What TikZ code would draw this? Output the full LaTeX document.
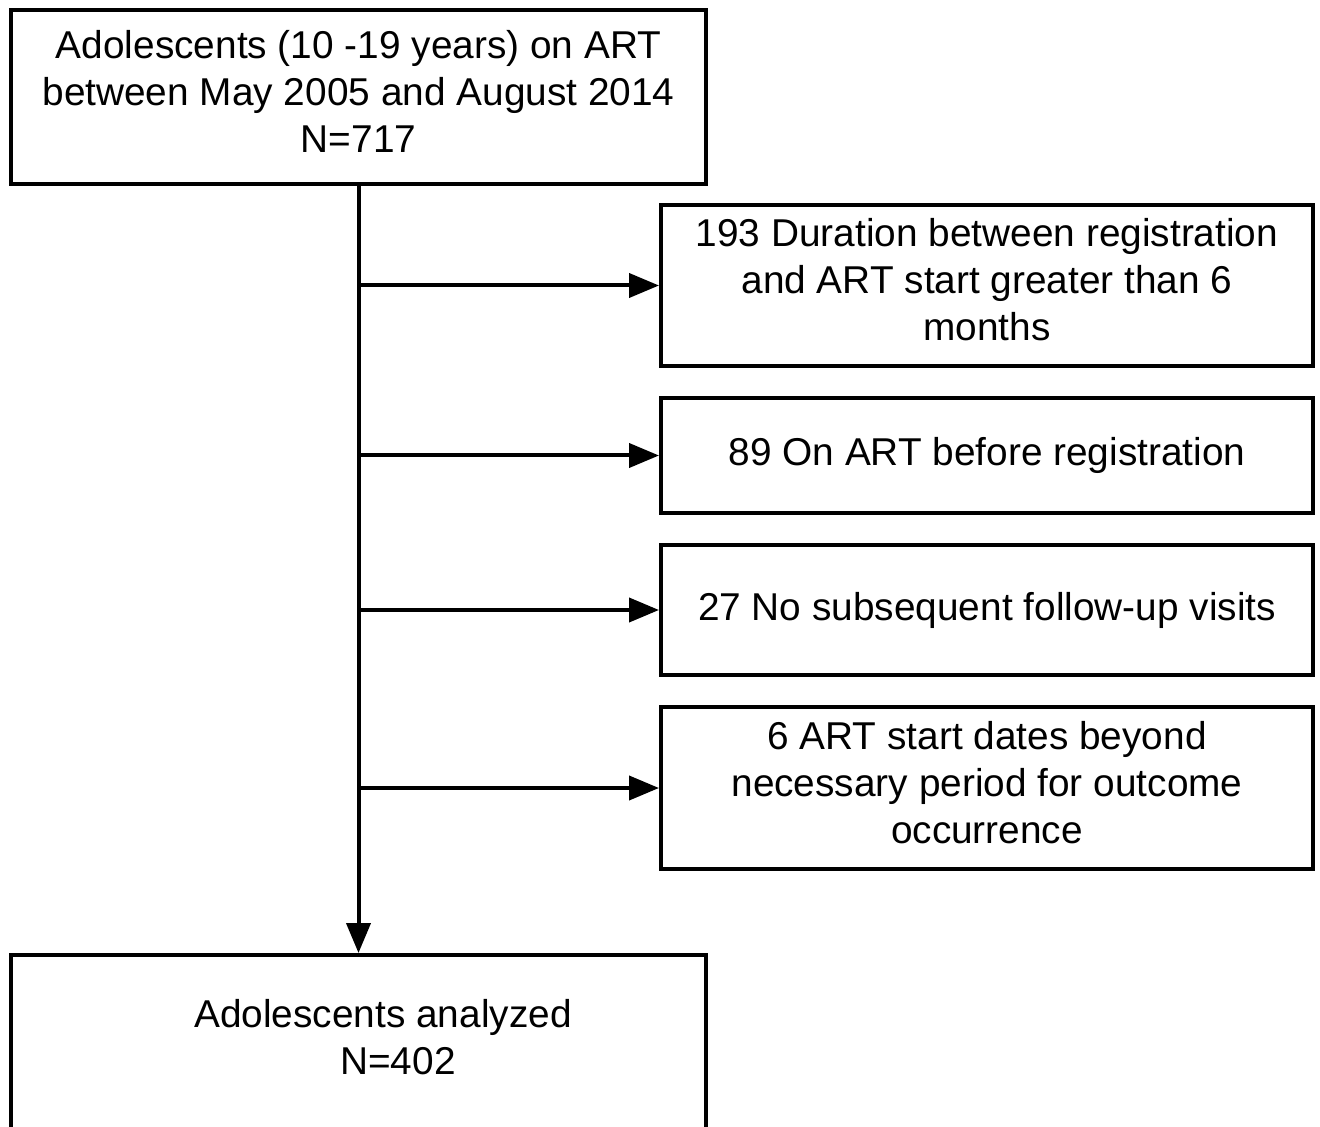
\documentclass[tikz,border=0pt]{standalone}
\usepackage{fontspec}
\setmainfont{Liberation Sans}
\usetikzlibrary{arrows.meta}
\begin{document}
\begin{tikzpicture}[x=0.5pt,y=-0.5pt,
  txt/.style={font=\fontsize{19.4pt}{23.5pt}\selectfont},
  box/.style={draw,line width=2pt,rectangle,inner sep=0pt,align=center,txt},
  conn/.style={line width=2pt,-{Triangle[length=15pt,width=12pt]}}]
\clip (0,0) rectangle (1320,1127);
\fill[white] (0,0) rectangle (1320,1127);
\node[box,minimum width=347.5pt,minimum height=87pt] (top) at (358.5,97)
  {Adolescents (10 -19 years) on ART\\between May 2005 and August 2014\\N=717\\[-17.5pt]};
\node[box,minimum width=326pt,minimum height=80.5pt] (b1) at (987,285.5)
  {193 Duration between registration\\and ART start greater than 6\\months\\[-17.5pt]};
\node[box,minimum width=326pt,minimum height=57.5pt] (b2) at (987,455.5)
  {89 On ART before registration};
\node[box,minimum width=326pt,minimum height=65pt] (b3) at (987,610)
  {27 No subsequent follow-up visits};
\node[box,minimum width=326pt,minimum height=81pt] (b4) at (987,788)
  {6 ART start dates beyond\\necessary period for outcome\\occurrence\\[-17.5pt]};
\node[box,minimum width=347.5pt,minimum height=130pt] (bot) at (358.5,1085) {};
\node[txt,align=center,inner sep=0pt] (bt) at (383,1037)
  {Adolescents analyzed\\\hspace*{15pt}N=402};
\draw[conn] (top.south) -- (bot.north);
\foreach \b in {b1,b2,b3,b4}
  \draw[conn] (top.south |- \b.west) -- (\b.west);
\end{tikzpicture}
\end{document}
